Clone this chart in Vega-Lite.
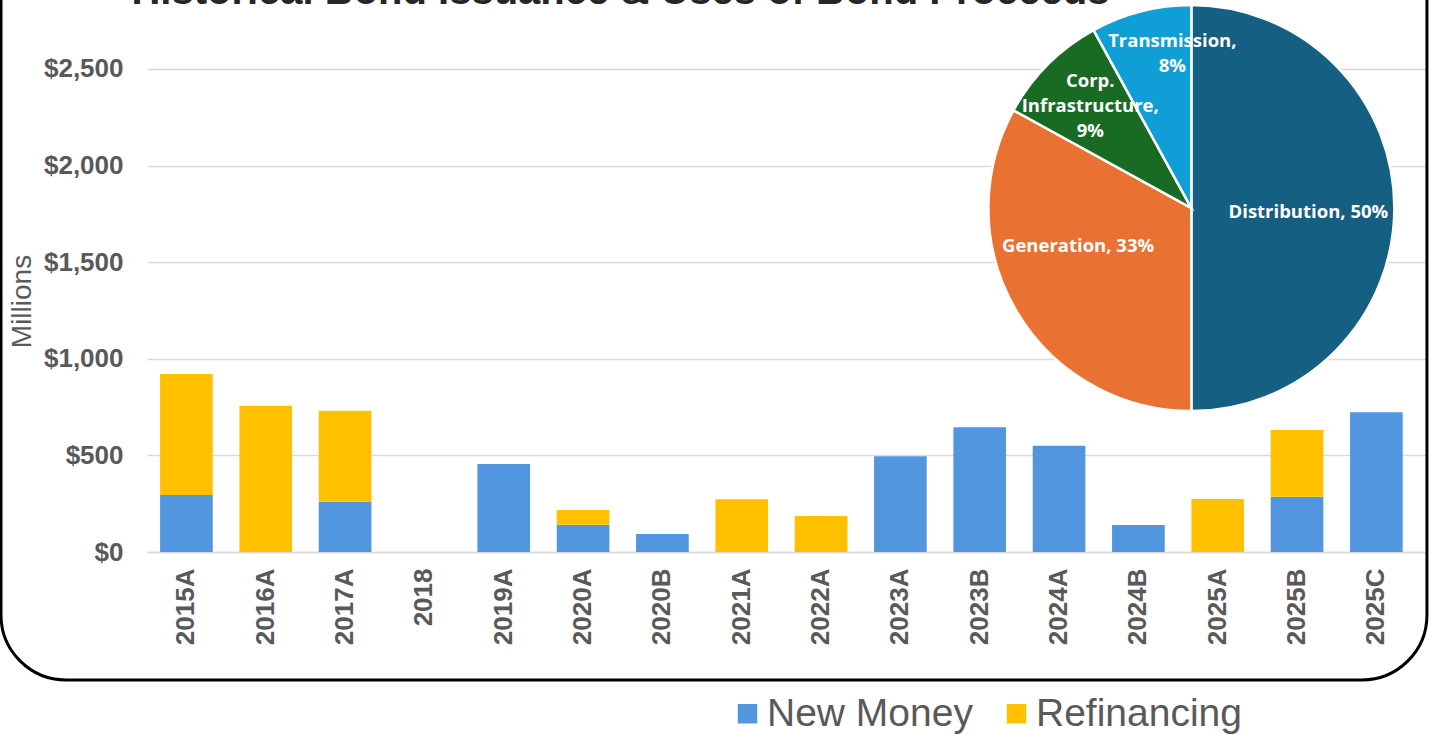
{
  "$schema": "https://vega.github.io/schema/vega-lite/v6.json",
  "width": 1280,
  "height": 552,
  "autosize": {"type": "none"},
  "padding": {"left": 147, "top": 0, "right": 4, "bottom": 183},
  "background": "white",
  "config": {"view": {"stroke": null}, "font": "Liberation Sans"},
  "datasets": {
    "bonds": [
      {"issue": "2015A", "type": "New Money", "amount": 295},
      {"issue": "2015A", "type": "Refinancing", "amount": 626},
      {"issue": "2016A", "type": "Refinancing", "amount": 757},
      {"issue": "2017A", "type": "New Money", "amount": 260},
      {"issue": "2017A", "type": "Refinancing", "amount": 471},
      {"issue": "2018", "type": "New Money", "amount": 0},
      {"issue": "2019A", "type": "New Money", "amount": 455},
      {"issue": "2020A", "type": "New Money", "amount": 141},
      {"issue": "2020A", "type": "Refinancing", "amount": 76},
      {"issue": "2020B", "type": "New Money", "amount": 93},
      {"issue": "2021A", "type": "Refinancing", "amount": 273},
      {"issue": "2022A", "type": "Refinancing", "amount": 186},
      {"issue": "2023A", "type": "New Money", "amount": 495},
      {"issue": "2023B", "type": "New Money", "amount": 646},
      {"issue": "2024A", "type": "New Money", "amount": 550},
      {"issue": "2024B", "type": "New Money", "amount": 140},
      {"issue": "2025A", "type": "Refinancing", "amount": 274},
      {"issue": "2025B", "type": "New Money", "amount": 286},
      {"issue": "2025B", "type": "Refinancing", "amount": 345},
      {"issue": "2025C", "type": "New Money", "amount": 723}
    ],
    "uses": [
      {"slice": "Distribution", "share": 50, "ord": 1, "label": "Distribution, 50%"},
      {"slice": "Generation", "share": 33, "ord": 2, "label": "Generation, 33%"},
      {"slice": "Corp. Infrastructure", "share": 9, "ord": 3, "label": "Corp.\nInfrastructure,\n9%"},
      {"slice": "Transmission", "share": 8, "ord": 4, "label": "Transmission,\n8%"}
    ],
    "frame": [{"title": "Historical Bond Issuance & Uses of Bond Proceeds"}]
  },
  "layer": [
    {
      "data": {"name": "bonds"},
      "mark": {"type": "bar"},
      "encoding": {
        "x": {
          "field": "issue", "type": "nominal", "sort": null,
          "scale": {
            "domain": ["2015A","2016A","2017A","2018","2019A","2020A","2020B","2021A","2022A","2023A","2023B","2024A","2024B","2025A","2025B","2025C"],
            "paddingInner": 0.336, "paddingOuter": 0.2355, "align": 0.35
          },
          "axis": {
            "title": null, "labelAngle": 270, "labelFontSize": 26, "labelFontWeight": "bold",
            "labelColor": "#595959", "labelPadding": 16, "ticks": false,
            "domainColor": "#D9D9D9", "domainWidth": 1.5, "grid": false
          }
        },
        "y": {
          "field": "amount", "type": "quantitative", "stack": "zero",
          "scale": {"domain": [0, 2857], "nice": false, "zero": true},
          "axis": {
            "title": "Millions", "values": [0, 500, 1000, 1500, 2000, 2500], "format": "$,.0f",
            "labelFontSize": 26, "labelFontWeight": "bold", "labelColor": "#595959", "labelPadding": 24,
            "ticks": false, "domain": false, "gridColor": "#D9D9D9", "gridWidth": 1.5,
            "titleFontSize": 28, "titleFontWeight": "normal", "titleColor": "#595959", "titlePadding": 7, "titleY": 301
          }
        },
        "order": {"field": "type", "type": "nominal", "sort": "ascending"},
        "color": {
          "field": "type", "type": "nominal",
          "scale": {"domain": ["New Money", "Refinancing"], "range": ["#5296E0", "#FFC000"]},
          "legend": {
            "title": null, "orient": "none", "legendX": 581, "legendY": 694, "direction": "horizontal",
            "symbolType": "square", "symbolSize": 380, "symbolStrokeWidth": 0, "labelLimit": 0,
            "labelFontSize": 39, "labelColor": "#595959", "labelOffset": 0, "columnPadding": 24, "padding": 0
          }
        }
      }
    },
    {
      "data": {"name": "uses"},
      "mark": {"type": "arc", "outerRadius": 203, "stroke": "white", "strokeWidth": 2.5},
      "encoding": {
        "x": {"datum": "2025A", "bandPosition": 0},
        "y": {"datum": 1780},
        "theta": {"field": "share", "type": "quantitative", "stack": true},
        "order": {"field": "ord", "type": "quantitative"},
        "color": {
          "field": "slice", "type": "nominal",
          "scale": {"domain": ["Distribution", "Generation", "Corp. Infrastructure", "Transmission"], "range": ["#156082", "#E97132", "#196B24", "#0F9ED5"]},
          "legend": null
        }
      }
    },
    {
      "data": {"name": "uses"},
      "mark": {
        "type": "text", "color": "white", "font": "Open Sans", "fontWeight": "bold", "fontSize": 18.5,
        "lineBreak": "\n", "lineHeight": 25, "align": "center", "baseline": "middle",
        "radius": {"expr": "datum.slice === 'Transmission' ? 157 : datum.slice === 'Corp. Infrastructure' ? 143 : datum.slice === 'Generation' ? 120 : 117"},
        "dx": {"expr": "datum.slice === 'Transmission' ? 20 : datum.slice === 'Generation' ? -10 : 0"},
        "dy": {"expr": "datum.slice === 'Transmission' ? -15 : datum.slice === 'Generation' ? -23 : datum.slice === 'Distribution' ? 4 : -26"}
      },
      "encoding": {
        "x": {"datum": "2025A", "bandPosition": 0},
        "y": {"datum": 1780},
        "theta": {"field": "share", "type": "quantitative", "stack": true},
        "order": {"field": "ord", "type": "quantitative"},
        "text": {"field": "label"}
      }
    },
    {
      "data": {"name": "frame"},
      "mark": {"type": "text", "fontSize": 40, "fontWeight": "bold", "color": "#262626", "baseline": "alphabetic", "align": "center", "dx": -42},
      "encoding": {
        "x": {"datum": "2020B"},
        "y": {"datum": 2834},
        "text": {"field": "title"}
      }
    },
    {
      "data": {"name": "frame"},
      "mark": {"type": "rect", "filled": false, "stroke": "black", "strokeWidth": 3, "cornerRadius": 65},
      "encoding": {
        "x": {"datum": "2015A", "bandPosition": -3.02},
        "x2": {"datum": "2025C", "bandPosition": 1.46},
        "y": {"datum": 3200},
        "y2": {"datum": -662}
      }
    }
  ],
  "resolve": {"scale": {"color": "independent"}}
}
